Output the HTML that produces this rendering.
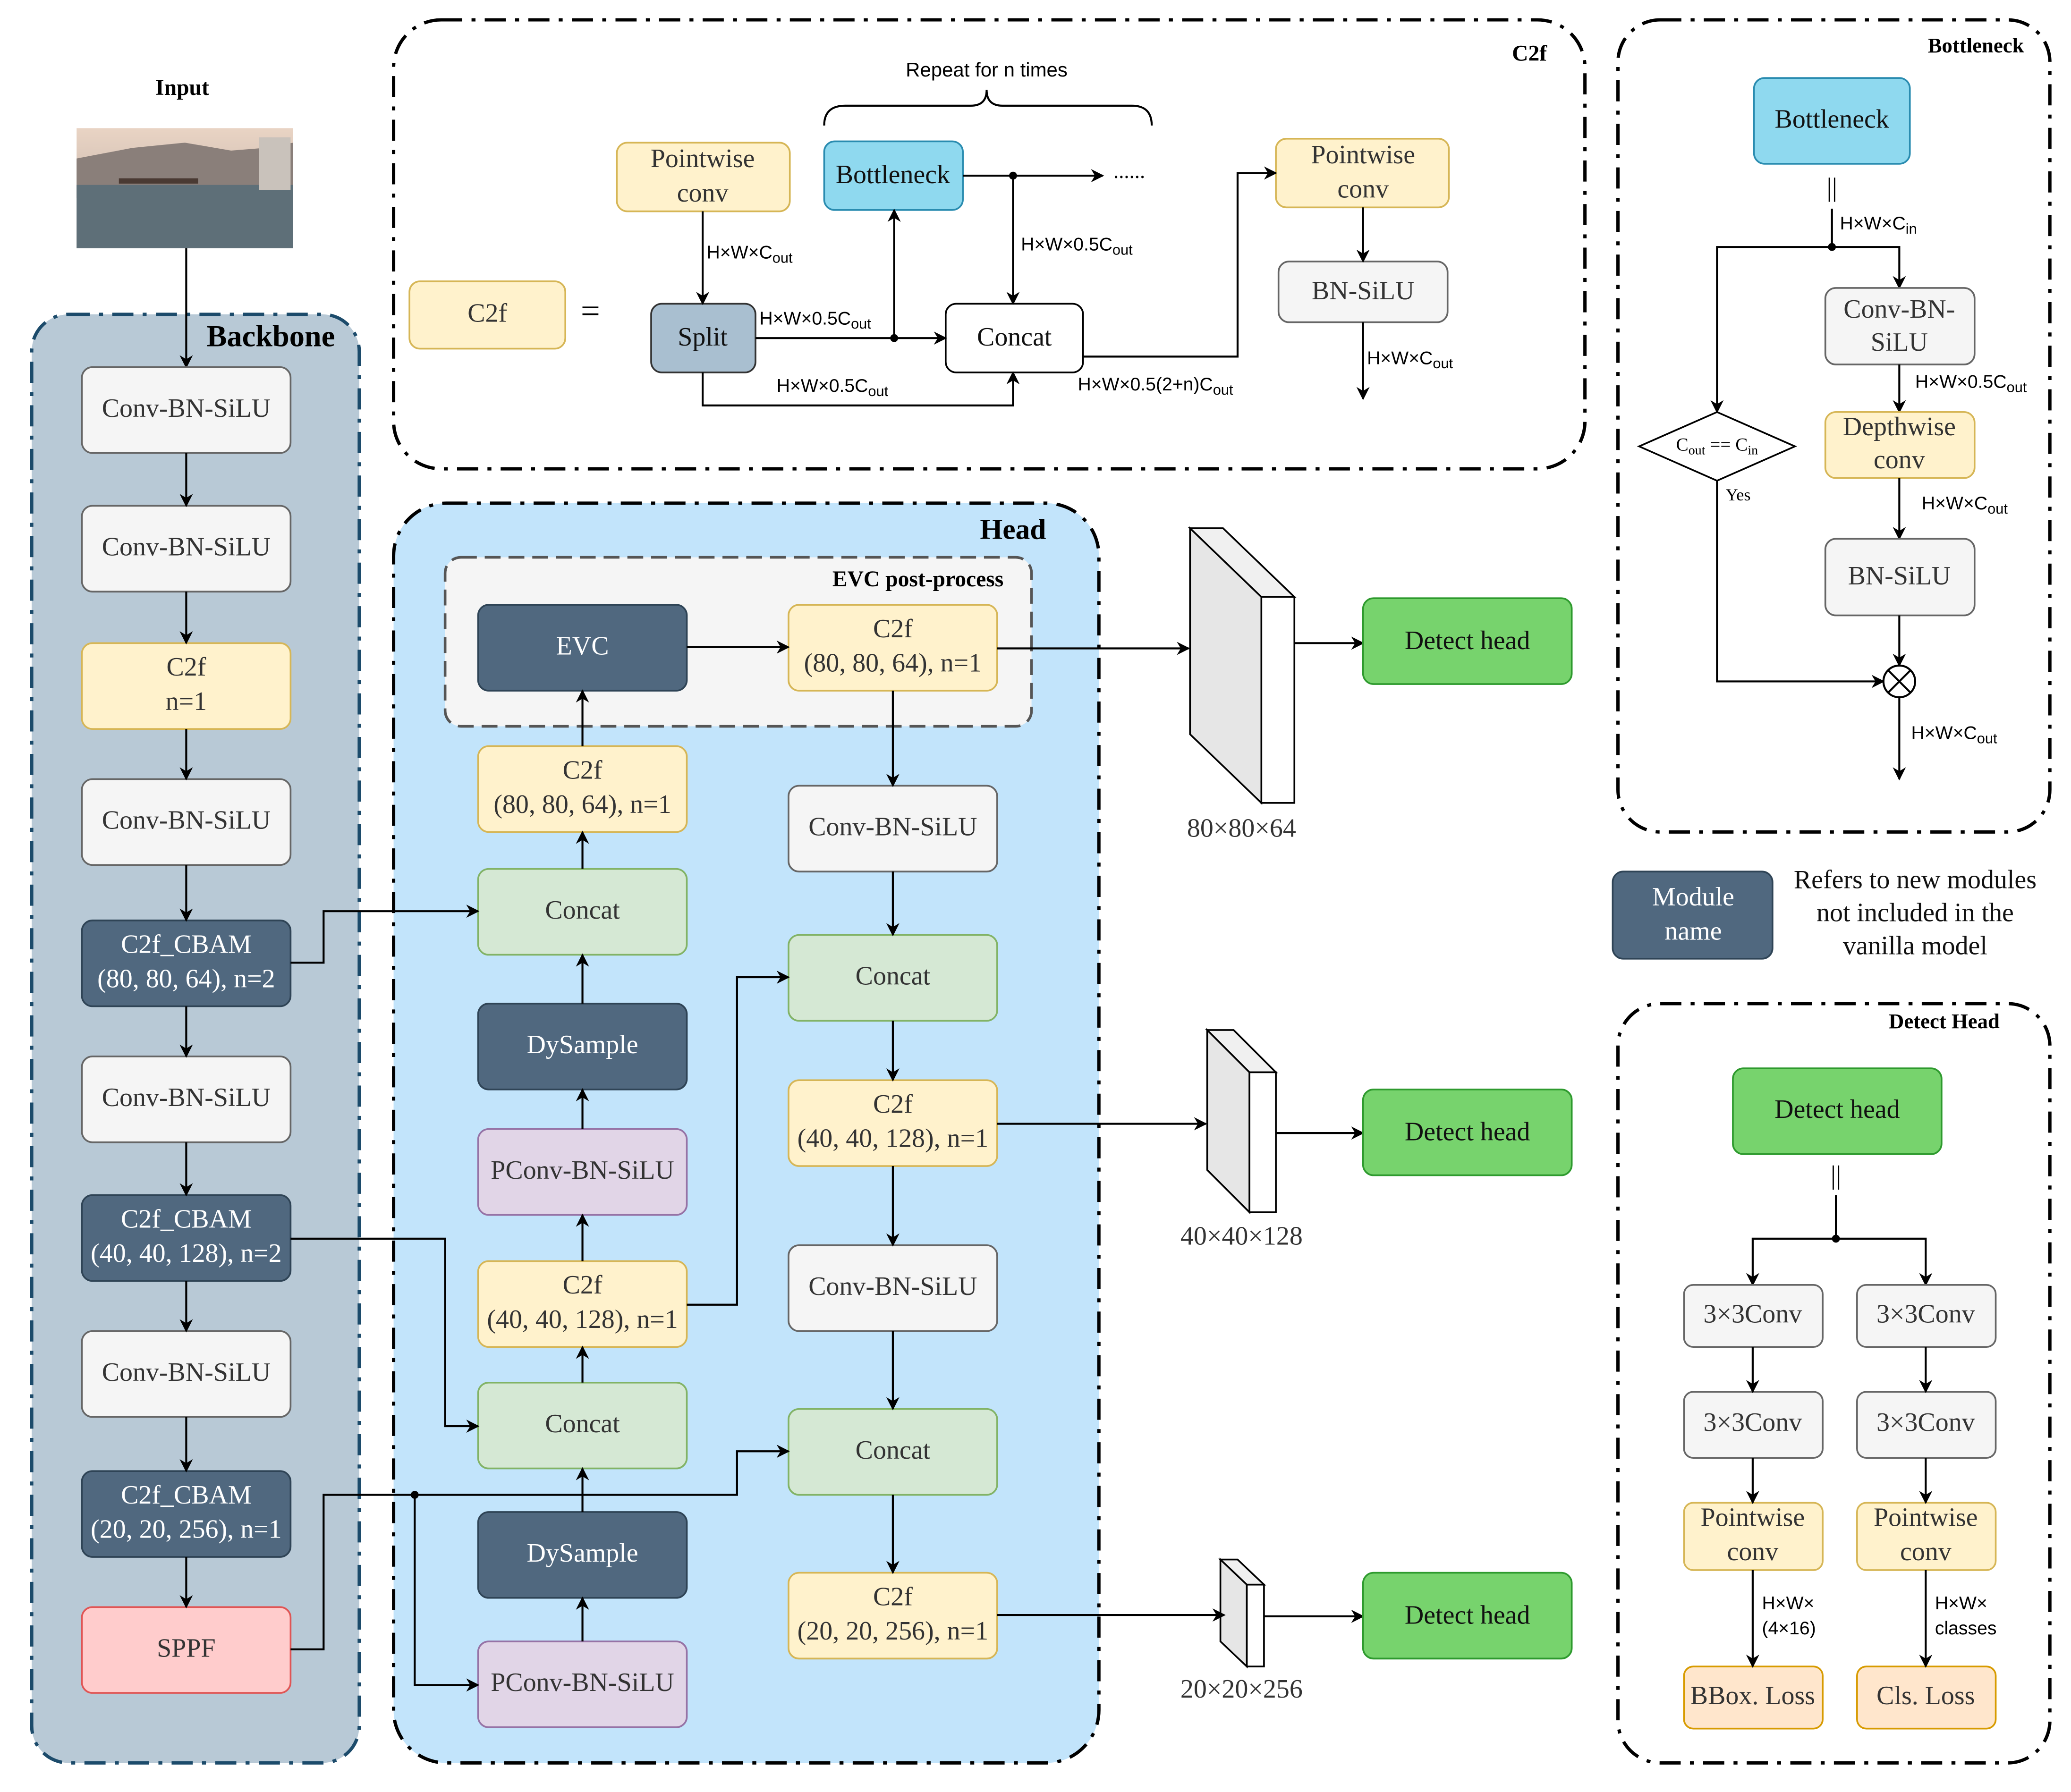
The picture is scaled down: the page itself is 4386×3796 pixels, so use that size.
<!DOCTYPE html>
<html><head><meta charset="utf-8"><style>html,body{margin:0;padding:0;background:#fff}svg{display:block}</style></head><body>
<svg xmlns="http://www.w3.org/2000/svg" width="4386" height="3796" viewBox="0 0 1568 1357">
<defs>
<marker id="a" markerWidth="10" markerHeight="10" refX="9" refY="5" orient="auto" markerUnits="userSpaceOnUse"><path d="M0,0 L10,5 L0,10 L3,5 z" fill="#000"/></marker>
<linearGradient id="sky" x1="0" y1="0" x2="0" y2="1"><stop offset="0" stop-color="#e9d4c4"/><stop offset="1" stop-color="#b9a9a2"/></linearGradient>
</defs>
<style>
text{font-family:"Liberation Serif",serif;font-size:20px;text-anchor:middle;dominant-baseline:middle;fill:#333}
.s{font-family:"Liberation Sans",sans-serif;font-size:14px;text-anchor:start;fill:#000}
.b{font-weight:bold;fill:#000}
.w{fill:#fff}
.l{stroke:#000;stroke-width:1.5;fill:none}
.la{stroke:#000;stroke-width:1.5;fill:none;marker-end:url(#a)}
.g{fill:#f5f5f5;stroke:#666;stroke-width:1.3}
.y{fill:#fff2cc;stroke:#d6b656;stroke-width:1.3}
.d{fill:#50687f;stroke:#2f4456;stroke-width:1.3}
.gr{fill:#d5e8d4;stroke:#82b366;stroke-width:1.3}
.p{fill:#e1d5e7;stroke:#9673a6;stroke-width:1.3}
.dh{fill:#77d36d;stroke:#2e9a2e;stroke-width:1.3}
.bl{fill:#8fd9ef;stroke:#2a8cb0;stroke-width:1.3}
.o{fill:#ffe6cc;stroke:#d79b00;stroke-width:1.3}
.dd{stroke-dasharray:16 7 3 7;stroke-width:2.5}
</style>

<!-- Input -->
<text x="138" y="68" class="b" style="font-size:17px">Input</text>
<rect x="58" y="97" width="164" height="91" fill="url(#sky)"/>
<path d="M58,120 L100,112 L140,108 L175,114 L200,112 L222,108 L222,150 L58,150z" fill="#8a7f7a"/>
<rect x="58" y="140" width="164" height="48" fill="#5e6f78"/>
<rect x="196" y="104" width="24" height="40" fill="#c9c2bb"/>
<rect x="90" y="135" width="60" height="4" fill="#4a3a33"/>

<!-- Backbone panel -->
<rect x="24" y="238" width="248" height="1097" rx="28" fill="#b8c9d6" stroke="#1c4b6b" class="dd"/>
<text x="205" y="257" class="b" style="font-size:23px">Backbone</text>
<path class="la" d="M141,188 V278"/>
<g>
<rect x="62" y="278" width="158" height="65" rx="8" class="g"/><text x="141" y="311">Conv-BN-SiLU</text>
<rect x="62" y="383" width="158" height="65" rx="8" class="g"/><text x="141" y="416">Conv-BN-SiLU</text>
<rect x="62" y="487" width="158" height="65" rx="8" class="y"/><text x="141" y="507">C2f</text><text x="141" y="533">n=1</text>
<rect x="62" y="590" width="158" height="65" rx="8" class="g"/><text x="141" y="623">Conv-BN-SiLU</text>
<rect x="62" y="697" width="158" height="65" rx="8" class="d"/><text x="141" y="717" class="w">C2f_CBAM</text><text x="141" y="743" class="w">(80, 80, 64), n=2</text>
<rect x="62" y="800" width="158" height="65" rx="8" class="g"/><text x="141" y="833">Conv-BN-SiLU</text>
<rect x="62" y="905" width="158" height="65" rx="8" class="d"/><text x="141" y="925" class="w">C2f_CBAM</text><text x="141" y="951" class="w">(40, 40, 128), n=2</text>
<rect x="62" y="1008" width="158" height="65" rx="8" class="g"/><text x="141" y="1041">Conv-BN-SiLU</text>
<rect x="62" y="1114" width="158" height="65" rx="8" class="d"/><text x="141" y="1134" class="w">C2f_CBAM</text><text x="141" y="1160" class="w">(20, 20, 256), n=1</text>
<rect x="62" y="1217" width="158" height="65" rx="8" fill="#ffcccc" stroke="#e05555" stroke-width="1.3"/><text x="141" y="1250">SPPF</text>
</g>
<path class="la" d="M141,343 V383"/><path class="la" d="M141,448 V487"/><path class="la" d="M141,552 V590"/>
<path class="la" d="M141,655 V697"/><path class="la" d="M141,762 V800"/><path class="la" d="M141,865 V905"/>
<path class="la" d="M141,970 V1008"/><path class="la" d="M141,1073 V1114"/><path class="la" d="M141,1179 V1217"/>

<!-- Head panel -->
<rect x="298" y="381" width="534" height="954" rx="40" fill="#c2e4fb" stroke="#000" class="dd"/>
<text x="767" y="403" class="b" style="font-size:22px">Head</text>
<rect x="337" y="422" width="444" height="128" rx="12" fill="#f5f5f5" stroke="#555" stroke-width="2" stroke-dasharray="12 6"/>
<text x="695" y="440" class="b" style="font-size:17px">EVC post-process</text>

<rect x="362" y="458" width="158" height="65" rx="8" class="d"/><text x="441" y="491" class="w">EVC</text>
<rect x="597" y="458" width="158" height="65" rx="8" class="y"/><text x="676" y="478">C2f</text><text x="676" y="504">(80, 80, 64), n=1</text>
<rect x="362" y="565" width="158" height="65" rx="8" class="y"/><text x="441" y="585">C2f</text><text x="441" y="611">(80, 80, 64), n=1</text>
<rect x="362" y="658" width="158" height="65" rx="8" class="gr"/><text x="441" y="691">Concat</text>
<rect x="362" y="760" width="158" height="65" rx="8" class="d"/><text x="441" y="793" class="w">DySample</text>
<rect x="362" y="855" width="158" height="65" rx="8" class="p"/><text x="441" y="888">PConv-BN-SiLU</text>
<rect x="362" y="955" width="158" height="65" rx="8" class="y"/><text x="441" y="975">C2f</text><text x="441" y="1001">(40, 40, 128), n=1</text>
<rect x="362" y="1047" width="158" height="65" rx="8" class="gr"/><text x="441" y="1080">Concat</text>
<rect x="362" y="1145" width="158" height="65" rx="8" class="d"/><text x="441" y="1178" class="w">DySample</text>
<rect x="362" y="1243" width="158" height="65" rx="8" class="p"/><text x="441" y="1276">PConv-BN-SiLU</text>

<rect x="597" y="595" width="158" height="65" rx="8" class="g"/><text x="676" y="628">Conv-BN-SiLU</text>
<rect x="597" y="708" width="158" height="65" rx="8" class="gr"/><text x="676" y="741">Concat</text>
<rect x="597" y="818" width="158" height="65" rx="8" class="y"/><text x="676" y="838">C2f</text><text x="676" y="864">(40, 40, 128), n=1</text>
<rect x="597" y="943" width="158" height="65" rx="8" class="g"/><text x="676" y="976">Conv-BN-SiLU</text>
<rect x="597" y="1067" width="158" height="65" rx="8" class="gr"/><text x="676" y="1100">Concat</text>
<rect x="597" y="1191" width="158" height="65" rx="8" class="y"/><text x="676" y="1211">C2f</text><text x="676" y="1237">(20, 20, 256), n=1</text>

<path class="la" d="M441,1243 V1210"/><path class="la" d="M441,1145 V1112"/><path class="la" d="M441,1047 V1020"/>
<path class="la" d="M441,955 V920"/><path class="la" d="M441,855 V825"/><path class="la" d="M441,760 V723"/>
<path class="la" d="M441,658 V630"/><path class="la" d="M441,565 V523"/><path class="la" d="M520,490 H597"/>
<path class="la" d="M676,523 V595"/><path class="la" d="M676,660 V708"/><path class="la" d="M676,773 V818"/>
<path class="la" d="M676,883 V943"/><path class="la" d="M676,1008 V1067"/><path class="la" d="M676,1132 V1191"/>
<path class="la" d="M220,729 H245 V690 H362"/>
<path class="la" d="M220,938 H337 V1080 H362"/>
<path class="la" d="M220,1249 H245 V1132 H558 V1099 H597"/>
<path class="la" d="M314,1132 V1276 H362"/>
<circle cx="314" cy="1132" r="3" fill="#000"/>
<path class="la" d="M520,988 H558 V740 H597"/>

<!-- Feature maps -->
<g stroke="#000" stroke-width="1.3">
<polygon points="901,400 955,452 955,608 901,556" fill="#e6e6e6"/>
<polygon points="901,400 926,400 980,452 955,452" fill="#f0f0f0"/>
<rect x="955" y="452" width="25" height="156" fill="#fff"/>
<polygon points="914,780 946,812 946,918 914,886" fill="#e6e6e6"/>
<polygon points="914,780 934,780 966,812 946,812" fill="#f0f0f0"/>
<rect x="946" y="812" width="20" height="106" fill="#fff"/>
<polygon points="924,1181 944,1200 944,1262 924,1243" fill="#e6e6e6"/>
<polygon points="924,1181 937,1181 957,1200 944,1200" fill="#f0f0f0"/>
<rect x="944" y="1200" width="13" height="62" fill="#fff"/>
</g>
<text x="940" y="629">80×80×64</text>
<text x="940" y="938">40×40×128</text>
<text x="940" y="1281">20×20×256</text>
<path class="la" d="M755,491 H900"/><path class="la" d="M755,851 H913"/><path class="la" d="M755,1223 H927"/>
<path class="la" d="M980,487 H1032"/><path class="la" d="M966,858 H1032"/><path class="la" d="M957,1224 H1032"/>
<rect x="1032" y="453" width="158" height="65" rx="8" class="dh"/><text x="1111" y="487" style="fill:#111">Detect head</text>
<rect x="1032" y="825" width="158" height="65" rx="8" class="dh"/><text x="1111" y="859" style="fill:#111">Detect head</text>
<rect x="1032" y="1191" width="158" height="65" rx="8" class="dh"/><text x="1111" y="1225" style="fill:#111">Detect head</text>

<!-- C2f panel -->
<rect x="298" y="15" width="902" height="340" rx="36" fill="#fff" stroke="#000" class="dd"/>
<text x="1158" y="42" class="b" style="font-size:17px">C2f</text>
<rect x="310" y="213" width="118" height="51" rx="8" class="y"/><text x="369" y="239">C2f</text>
<text x="447" y="238" style="font-size:26px;fill:#000">=</text>
<rect x="467" y="108" width="131" height="52" rx="8" class="y"/><text x="532" y="122">Pointwise</text><text x="532" y="148">conv</text>
<rect x="624" y="107" width="105" height="52" rx="8" class="bl"/><text x="676" y="134" style="fill:#111">Bottleneck</text>
<rect x="493" y="230" width="79" height="52" rx="8" fill="#a9bfd0" stroke="#333" stroke-width="1.3"/><text x="532" y="257" style="fill:#111">Split</text>
<rect x="716" y="230" width="104" height="52" rx="8" fill="#fff" stroke="#000" stroke-width="1.3"/><text x="768" y="257" style="fill:#111">Concat</text>
<rect x="966" y="105" width="131" height="52" rx="8" class="y"/><text x="1032" y="119">Pointwise</text><text x="1032" y="145">conv</text>
<rect x="968" y="198" width="128" height="46" rx="8" class="g"/><text x="1032" y="222">BN-SiLU</text>
<text x="747" y="54" style="font-family:'Liberation Sans',sans-serif;font-size:15px;fill:#000">Repeat for n times</text>
<path class="l" d="M624,95 Q624,80 640,80 H735 Q747,80 747,68 Q747,80 759,80 H857 Q872,80 872,95"/>
<path class="la" d="M532,160 V230"/>
<text x="535" y="192" class="s">H×W×C<tspan font-size="11" dy="4">out</tspan></text>
<path class="la" d="M572,256 H716"/>
<circle cx="677" cy="256" r="3" fill="#000"/>
<path class="la" d="M677,256 V159"/>
<text x="575" y="242" class="s">H×W×0.5C<tspan font-size="11" dy="4">out</tspan></text>
<path class="la" d="M729,133 H835"/>
<circle cx="767" cy="133" r="3" fill="#000"/>
<text x="855" y="131" style="font-size:16px;fill:#000">......</text>
<path class="la" d="M767,133 V230"/>
<text x="773" y="186" class="s">H×W×0.5C<tspan font-size="11" dy="4">out</tspan></text>
<path class="la" d="M532,282 V307 H767 V282"/>
<text x="588" y="293" class="s">H×W×0.5C<tspan font-size="11" dy="4">out</tspan></text>
<path class="la" d="M820,270 H937 V131 H966"/>
<text x="816" y="292" class="s">H×W×0.5(2+n)C<tspan font-size="11" dy="4">out</tspan></text>
<path class="la" d="M1032,157 V198"/><path class="la" d="M1032,244 V302"/>
<text x="1035" y="272" class="s">H×W×C<tspan font-size="11" dy="4">out</tspan></text>

<!-- Bottleneck panel -->
<rect x="1225" y="15" width="327" height="615" rx="32" fill="#fff" stroke="#000" class="dd"/>
<text x="1496" y="36" class="b" style="font-size:16px">Bottleneck</text>
<rect x="1328" y="59" width="118" height="65" rx="8" class="bl"/><text x="1387" y="92" style="fill:#111">Bottleneck</text>
<text x="1387" y="144" style="fill:#000">||</text>
<path class="l" d="M1387,158 V187"/>
<circle cx="1387" cy="187" r="3" fill="#000"/>
<text x="1393" y="170" class="s">H×W×C<tspan font-size="11" dy="4">in</tspan></text>
<path class="la" d="M1387,187 H1438 V218"/>
<path class="la" d="M1387,187 H1300 V312"/>
<rect x="1382" y="218" width="113" height="58" rx="8" class="g"/><text x="1438" y="236">Conv-BN-</text><text x="1438" y="261">SiLU</text>
<path class="la" d="M1438,276 V312"/>
<text x="1450" y="290" class="s">H×W×0.5C<tspan font-size="11" dy="4">out</tspan></text>
<rect x="1382" y="312" width="113" height="50" rx="8" class="y"/><text x="1438" y="325">Depthwise</text><text x="1438" y="350">conv</text>
<path class="la" d="M1438,362 V408"/>
<text x="1455" y="382" class="s">H×W×C<tspan font-size="11" dy="4">out</tspan></text>
<rect x="1382" y="408" width="113" height="58" rx="8" class="g"/><text x="1438" y="438">BN-SiLU</text>
<path class="la" d="M1438,466 V504"/>
<polygon points="1241,338 1300,312 1359,338 1300,364" fill="#fff" stroke="#000" stroke-width="1.3"/>
<text x="1300" y="338" style="font-size:14px;fill:#000">C<tspan font-size="10" dy="4">out</tspan><tspan dy="-4"> == C</tspan><tspan font-size="10" dy="4">in</tspan></text>
<text x="1316" y="376" style="font-size:13px;fill:#000">Yes</text>
<path class="la" d="M1300,364 V516 H1426"/>
<circle cx="1438" cy="516" r="12" fill="#fff" stroke="#000" stroke-width="1.5"/>
<path class="l" d="M1430,508 L1446,524 M1446,508 L1430,524"/>
<path class="la" d="M1438,528 V590"/>
<text x="1447" y="556" class="s">H×W×C<tspan font-size="11" dy="4">out</tspan></text>

<!-- Legend -->
<rect x="1221" y="660" width="121" height="66" rx="8" class="d"/><text x="1282" y="681" class="w">Module</text><text x="1282" y="707" class="w">name</text>
<text x="1450" y="668" style="fill:#111">Refers to new modules</text>
<text x="1450" y="693" style="fill:#111">not included in the</text>
<text x="1450" y="718" style="fill:#111">vanilla model</text>

<!-- Detect Head panel -->
<rect x="1225" y="760" width="327" height="575" rx="32" fill="#fff" stroke="#000" class="dd"/>
<text x="1472" y="775" class="b" style="font-size:16px">Detect Head</text>
<rect x="1312" y="809" width="158" height="65" rx="8" class="dh"/><text x="1391" y="842" style="fill:#111">Detect head</text>
<text x="1390" y="892" style="fill:#000">||</text>
<path class="l" d="M1390,905 V938"/>
<circle cx="1390" cy="938" r="3" fill="#000"/>
<path class="la" d="M1390,938 H1327 V973"/><path class="la" d="M1390,938 H1458 V973"/>
<rect x="1275" y="973" width="105" height="47" rx="7" class="g"/><text x="1327" y="997">3×3Conv</text>
<rect x="1406" y="973" width="105" height="47" rx="7" class="g"/><text x="1458" y="997">3×3Conv</text>
<rect x="1275" y="1054" width="105" height="50" rx="7" class="g"/><text x="1327" y="1079">3×3Conv</text>
<rect x="1406" y="1054" width="105" height="50" rx="7" class="g"/><text x="1458" y="1079">3×3Conv</text>
<rect x="1275" y="1138" width="105" height="51" rx="7" class="y"/><text x="1327" y="1151">Pointwise</text><text x="1327" y="1177">conv</text>
<rect x="1406" y="1138" width="105" height="51" rx="7" class="y"/><text x="1458" y="1151">Pointwise</text><text x="1458" y="1177">conv</text>
<rect x="1275" y="1262" width="105" height="47" rx="7" class="o"/><text x="1327" y="1286">BBox. Loss</text>
<rect x="1406" y="1262" width="105" height="47" rx="7" class="o"/><text x="1458" y="1286">Cls. Loss</text>
<path class="la" d="M1327,1020 V1054"/><path class="la" d="M1458,1020 V1054"/><path class="la" d="M1327,1104 V1138"/>
<path class="la" d="M1458,1104 V1138"/><path class="la" d="M1327,1189 V1262"/><path class="la" d="M1458,1189 V1262"/>
<text x="1334" y="1215" class="s">H×W×</text><text x="1334" y="1234" class="s">(4×16)</text>
<text x="1465" y="1215" class="s">H×W×</text><text x="1465" y="1234" class="s">classes</text>
</svg>
</body></html>
